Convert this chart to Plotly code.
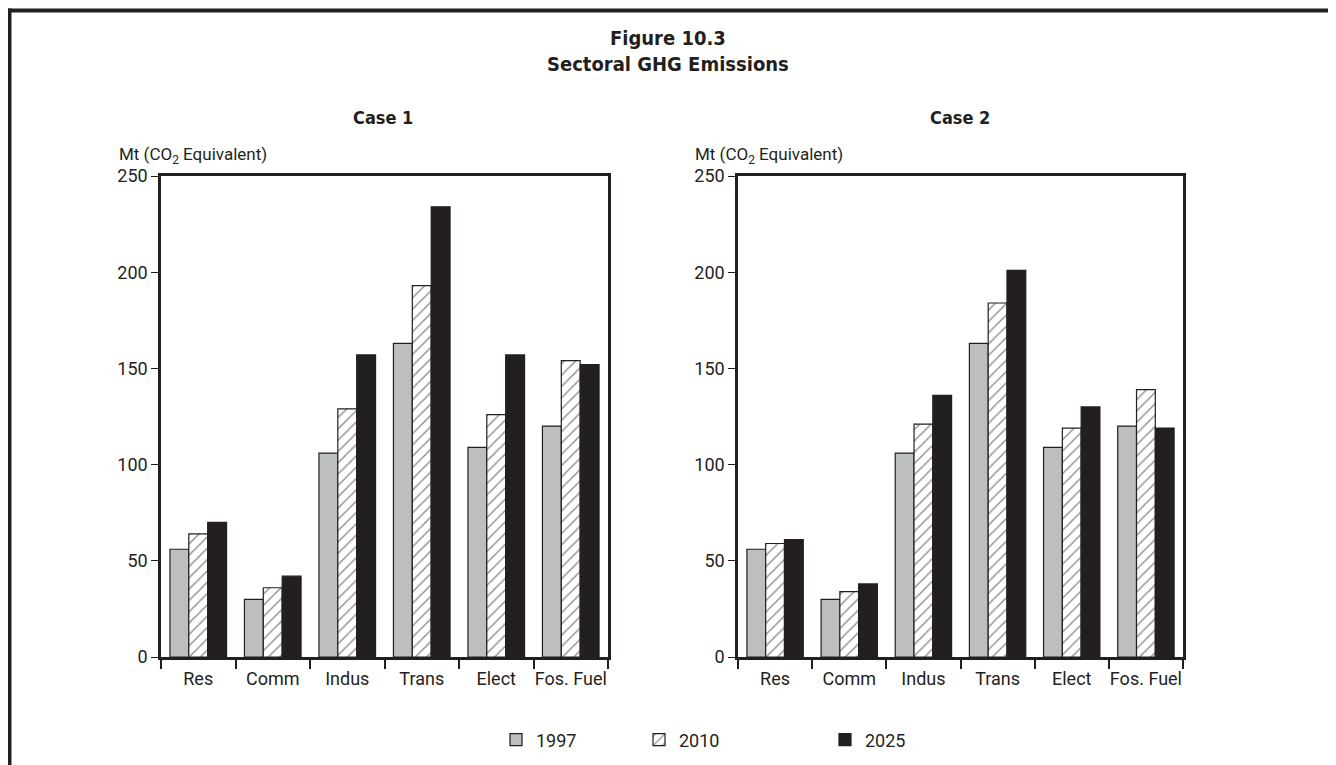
import plotly.graph_objects as go
from plotly.subplots import make_subplots

sectors = ["Res", "Comm", "Indus", "Trans", "Elect", "Fos. Fuel"]
years = ["1997", "2010", "2025"]

# Mt CO2 equivalent
case1_1997 = [56, 30, 106, 163, 109, 120]
case1_2010 = [64, 36, 129, 193, 126, 154]
case1_2025 = [70, 42, 157, 234, 157, 152]

case2_1997 = [56, 30, 106, 163, 109, 120]
case2_2010 = [59, 34, 121, 184, 119, 139]
case2_2025 = [61, 38, 136, 201, 130, 119]

y_ticks = [0, 50, 100, 150, 200, 250]

INK = "#231f20"
GREY = "#bcbec0"
FONT = "Roboto"
HEAD_FONT = "DejaVu Sans Condensed, Roboto Condensed, Roboto"
W, H = 1336, 765
PAGE_OFFSET = 8  # default body margin of the html page


def px_x(v):
    return (v - PAGE_OFFSET) / W


def px_y(v):
    return 1 - (v - PAGE_OFFSET) / H


def add_case(fig, col, values, show_legend):
    styles = [
        dict(color=GREY),
        dict(color="white", pattern=dict(shape="/", fgcolor=INK, bgcolor="white", size=8, solidity=0.18)),
        dict(color=INK),
    ]
    legends = ["legend", "legend2", "legend3"]
    for year, vals, style, lg in zip(years, values, styles, legends):
        fig.add_trace(
            go.Bar(
                x=sectors,
                y=vals,
                name=year,
                marker=dict(line=dict(color=INK, width=1.2), **style),
                showlegend=show_legend,
                legendgroup=year,
                legend=lg,
            ),
            row=1,
            col=col,
        )


fig = make_subplots(rows=1, cols=2)
add_case(fig, 1, [case1_1997, case1_2010, case1_2025], True)
add_case(fig, 2, [case2_1997, case2_2010, case2_2025], False)

axis_font = dict(family=FONT, size=18, color=INK)
fig.update_xaxes(
    showline=True, linewidth=2.5, linecolor=INK, mirror=True,
    ticks="outside", tickson="boundaries", ticklen=9, tickwidth=1.5, tickcolor=INK,
    tickfont=axis_font, tickangle=0, ticklabelstandoff=4,
    showgrid=False, automargin=False,
)
fig.update_yaxes(
    range=[0, 250], tickvals=y_ticks,
    showline=True, linewidth=2.5, linecolor=INK, mirror=True,
    ticks="outside", ticklen=7, tickwidth=1.2, tickcolor=INK,
    tickfont=axis_font, showgrid=False, zeroline=False, automargin=False,
)

fig.update_layout(
    xaxis=dict(domain=[px_x(161), px_x(608)]),
    xaxis2=dict(domain=[px_x(738), px_x(1183)]),
    yaxis=dict(domain=[px_y(657), px_y(176)]),
    yaxis2=dict(domain=[px_y(657), px_y(176)]),
)

annotations = [
    dict(text="<b>Figure 10.3<br>Sectoral GHG Emissions</b>", x=px_x(668), y=px_y(51),
         font=dict(family=HEAD_FONT, size=20, color=INK)),
    dict(text="<b>Case 1</b>", x=px_x(383), y=px_y(118),
         font=dict(family=HEAD_FONT, size=18, color=INK)),
    dict(text="<b>Case 2</b>", x=px_x(960), y=px_y(118),
         font=dict(family=HEAD_FONT, size=18, color=INK)),
    dict(text="Mt (CO<sub>2</sub> Equivalent)", x=px_x(117), y=px_y(155), xanchor="left",
         font=dict(family=FONT, size=17, color=INK)),
    dict(text="Mt (CO<sub>2</sub> Equivalent)", x=px_x(693), y=px_y(155), xanchor="left",
         font=dict(family=FONT, size=17, color=INK)),
]
for a in annotations:
    a.update(xref="paper", yref="paper", showarrow=False)
    a.setdefault("xanchor", "center")
    a["yanchor"] = "middle"

legend_style = dict(orientation="h", y=px_y(740), xanchor="left", yanchor="middle",
                    font=axis_font, bgcolor="rgba(0,0,0,0)")

fig.update_layout(
    width=W,
    height=H,
    margin=dict(l=0, r=0, t=0, b=0, autoexpand=False),
    paper_bgcolor="white",
    plot_bgcolor="white",
    barmode="group",
    bargap=0.24,
    bargroupgap=0,
    annotations=annotations,
    legend=dict(x=px_x(496), **legend_style),
    legend2=dict(x=px_x(639), **legend_style),
    legend3=dict(x=px_x(825), **legend_style),
    shapes=[
        dict(type="line", xref="paper", yref="paper", x0=px_x(7), x1=1, y0=px_y(10.5), y1=px_y(10.5),
             line=dict(color=INK, width=4)),
        dict(type="line", xref="paper", yref="paper", x0=px_x(9.5), x1=px_x(9.5), y0=px_y(8.5), y1=0,
             line=dict(color=INK, width=4)),
    ],
)

fig.write_html("out.html")
